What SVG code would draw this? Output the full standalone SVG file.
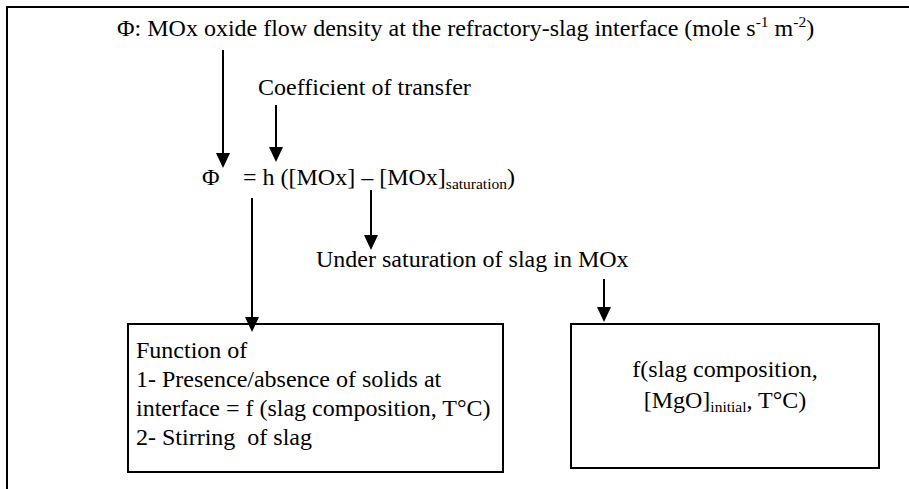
<svg xmlns="http://www.w3.org/2000/svg" width="909" height="489" viewBox="0 0 909 489" font-family="'Liberation Serif', 'DejaVu Serif', serif">
<style>
text{font-family:'Liberation Serif','DejaVu Serif',serif;font-size:24px;fill:#000}
.sub{font-size:15.5px}
.ln{stroke:#000;stroke-width:2;fill:none}
.box{stroke:#000;stroke-width:2;fill:#fff}
.hd{fill:#000}
</style>
<rect width="909" height="489" fill="#fff"/>
<path class="ln" d="M7,489 V7 H909"/>
<g id="title"><text x="117" y="36">Φ: MOx oxide flow density at the refractory-slag interface (mole s<tspan class="sub" dy="-9">-1</tspan><tspan dy="9"> m</tspan><tspan class="sub" dy="-9">-2</tspan><tspan dy="9">)</tspan></text></g>
<g id="coef"><text x="258" y="95">Coefficient of transfer</text></g>
<g id="equation"><text x="202" y="185">Φ</text><text x="243" y="185">= h ([MOx] – [MOx]<tspan class="sub" dy="4">saturation</tspan><tspan dy="-4">)</tspan></text></g>
<g id="under"><text x="316" y="267">Under saturation of slag in MOx</text></g>
<g id="box-left">
<rect class="box" x="128" y="324" width="375" height="148"/>
<text x="136" y="358">Function of</text>
<text x="136" y="387">1- Presence/absence of solids at</text>
<text x="136" y="416">interface = f (slag composition, T°C)</text>
<text x="136" y="445" xml:space="preserve">2- Stirring  of slag</text>
</g>
<g id="box-right">
<rect class="box" x="571" y="324" width="308" height="144"/>
<text x="725" y="377" text-anchor="middle">f(slag composition,</text>
<text x="725" y="408" text-anchor="middle">[MgO]<tspan class="sub" dy="4">initial</tspan><tspan dy="-4">, T°C)</tspan></text>
</g>
<g id="connectors">
<line class="ln" x1="223" y1="50" x2="223" y2="154"/>
<polygon class="hd" points="216,153 230,153 223,168"/>
<line class="ln" x1="276" y1="105" x2="276" y2="148"/>
<polygon class="hd" points="269,147 283,147 276,162"/>
<line class="ln" x1="371" y1="190" x2="371" y2="236"/>
<polygon class="hd" points="364,235 378,235 371,250"/>
<line class="ln" x1="252" y1="198" x2="252" y2="318"/>
<polygon class="hd" points="245,317 259,317 252,332"/>
<line class="ln" x1="604" y1="279" x2="604" y2="308"/>
<polygon class="hd" points="597,307 611,307 604,322"/>
</g>
</svg>
